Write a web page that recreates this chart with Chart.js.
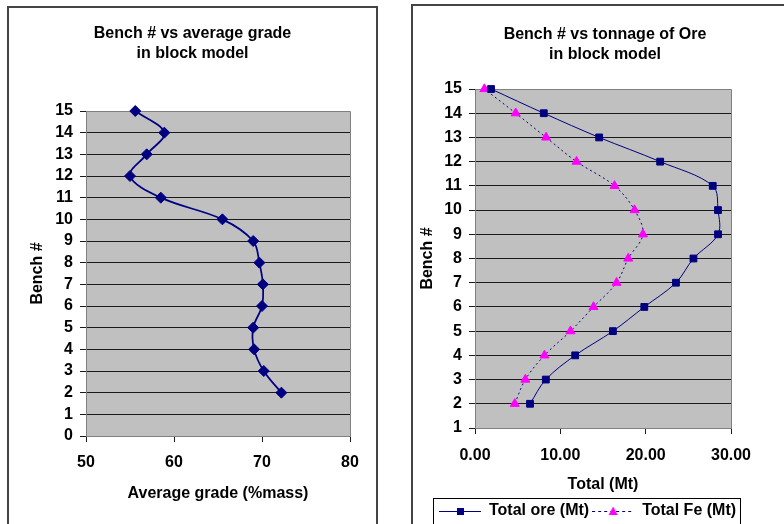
<!DOCTYPE html>
<html>
<head>
<meta charset="utf-8">
<title>Bench charts</title>
<script src="https://cdn.jsdelivr.net/npm/chart.js@4.4.0/dist/chart.umd.min.js"></script>
<style>
  html, body { margin: 0; padding: 0; background: #fff; width: 784px; height: 524px; overflow: hidden; }
  .box { position: absolute; box-sizing: border-box; border: 2px solid #444; background: #fff; }
  #boxGrade { left: 7px; top: 6px; width: 371px; height: 540px; }
  #boxTonnage { left: 411px; top: 4px; width: 400px; height: 540px; }
  canvas { position: absolute; left: 0; top: 0; }
</style>
</head>
<body>
<div class="box" id="boxGrade"><canvas id="gradeChart" width="367" height="516"></canvas></div>
<div class="box" id="boxTonnage"><canvas id="tonnageChart" width="371" height="523"></canvas></div>
<script>
// ===== data =====
const benches = [2, 3, 4, 5, 6, 7, 8, 9, 10, 11, 12, 13, 14, 15];
const avgGrade = [72.2, 70.2, 69.1, 69.0, 70.0, 70.1, 69.7, 69.0, 65.5, 58.5, 55.0, 56.9, 58.9, 55.6];
const totalOre = [6.45, 8.3, 11.74, 16.16, 19.84, 23.55, 25.6, 28.48, 28.48, 27.86, 21.7, 14.55, 8.06, 1.88];
const totalFe = [4.66, 5.9, 8.14, 11.19, 13.89, 16.59, 17.96, 19.68, 18.7, 16.35, 11.9, 8.33, 4.77, 1.1];

const gradeTicks = [50, 60, 70, 80];
const tonnageTicks = [0, 10, 20, 30];
const seriesNames = ['Total ore (Mt)', 'Total Fe (Mt)'];

const NAVY = '#000080';
const MAGENTA = '#FF00FF';
const GRID = '#1a1a1a';
const AXIS = '#808080';

Chart.defaults.font.family = '"Liberation Sans", Arial, sans-serif';
Chart.defaults.font.weight = 'bold';
Chart.defaults.font.size = 16;
Chart.defaults.color = '#000';

// ===== helpers =====
function toPoints(xs) {
    return xs.map((v, i) => ({ x: v, y: benches[i] }));
}

// grey plot area with grey frame (Excel look)
const plotBackground = {
    id: 'plotBackground',
    beforeDraw(chart) {
        const a = chart.chartArea, ctx = chart.ctx;
        ctx.save();
        ctx.fillStyle = '#C0C0C0';
        ctx.fillRect(a.left, a.top, a.right - a.left, a.bottom - a.top);
        ctx.restore();
    },
    beforeDatasetsDraw(chart) {
        const a = chart.chartArea, ctx = chart.ctx;
        ctx.save();
        ctx.strokeStyle = AXIS;
        ctx.lineWidth = 1;
        ctx.beginPath();
        ctx.moveTo(Math.round(a.left), Math.round(a.top) + 0.5);
        ctx.lineTo(Math.round(a.right) + 0.5, Math.round(a.top) + 0.5);
        ctx.lineTo(Math.round(a.right) + 0.5, Math.round(a.bottom));
        ctx.stroke();
        ctx.restore();
    }
};

// frame round the legend
const legendFrame = {
    id: 'legendFrame',
    afterDraw(chart) {
        const hb = chart.legend && chart.legend.legendHitBoxes;
        if (!hb || !hb.length) return;
        const ctx = chart.ctx;
        const last = hb[hb.length - 1];
        const x0 = Math.round(hb[0].left - 6);
        const x1 = Math.round(last.left + last.width + 4);
        const cy = hb[0].top + hb[0].height / 2;
        ctx.save();
        ctx.strokeStyle = '#000';
        ctx.lineWidth = 1;
        ctx.strokeRect(x0 + 0.5, Math.round(cy - 13) + 0.5, x1 - x0, 26);
        ctx.restore();
    }
};

function makeLegendIcon(dashed, marker) {
    const c = document.createElement('canvas');
    c.width = 42;
    c.height = 14;
    const g = c.getContext('2d');
    g.strokeStyle = NAVY;
    g.lineWidth = 1;
    if (dashed) g.setLineDash([3, 3]);
    g.beginPath();
    g.moveTo(0, 7.5);
    g.lineTo(42, 7.5);
    g.stroke();
    g.setLineDash([]);
    if (marker === 'square') {
        g.fillStyle = NAVY;
        g.fillRect(18, 4, 7, 7);
    } else {
        g.fillStyle = MAGENTA;
        g.beginPath();
        g.moveTo(21, 2.5);
        g.lineTo(25.5, 11);
        g.lineTo(16.5, 11);
        g.closePath();
        g.fill();
    }
    return c;
}

function gridColor(min, max) {
    return ctx => (ctx.tick && (ctx.tick.value === min || ctx.tick.value === max)) ? AXIS : GRID;
}

// ===== left chart: average grade =====
new Chart(document.getElementById('gradeChart'), {
    type: 'scatter',
    data: {
        datasets: [{
            data: toPoints(avgGrade),
            showLine: true,
            clip: false,
            tension: 0.35,
            borderColor: NAVY,
            borderWidth: 1.75,
            backgroundColor: NAVY,
            pointStyle: 'rectRot',
            pointRadius: 5.5,
            pointBorderWidth: 1
        }]
    },
    options: {
        responsive: false,
        animation: false,
        layout: { padding: 0 },
        plugins: {
            legend: { display: false },
            tooltip: { enabled: false },
            title: {
                display: true,
                text: ['Bench # vs average grade', 'in block model'],
                font: { size: 16, weight: 'bold', lineHeight: 1.25 },
                padding: { top: 16, bottom: 47 }
            }
        },
        scales: {
            x: {
                type: 'linear',
                min: 50,
                max: 80,
                afterBuildTicks: s => { s.ticks = gradeTicks.map(v => ({ value: v })); },
                afterFit: s => { s.height = 88; s.paddingRight = 26; },
                grid: { drawOnChartArea: false, tickLength: 6, tickColor: GRID },
                border: { color: AXIS },
                ticks: { padding: 11 },
                title: { display: true, text: 'Average grade (%mass)', padding: { bottom: 21 } }
            },
            y: {
                type: 'linear',
                min: 0,
                max: 15,
                afterFit: s => { s.width = 77; },
                grid: { color: gridColor(0, 15), tickLength: 6, tickColor: GRID },
                border: { color: AXIS },
                ticks: { stepSize: 1, padding: 7, autoSkip: false },
                title: { display: true, text: 'Bench #', padding: { top: 19 } }
            }
        }
    },
    plugins: [plotBackground]
});

// ===== right chart: tonnage =====
const legendIcons = [makeLegendIcon(false, 'square'), makeLegendIcon(true, 'triangle')];

new Chart(document.getElementById('tonnageChart'), {
    type: 'scatter',
    data: {
        datasets: [{
            label: seriesNames[0],
            data: toPoints(totalOre),
            showLine: true,
            clip: false,
            tension: 0.35,
            borderColor: NAVY,
            borderWidth: 1,
            backgroundColor: NAVY,
            pointStyle: 'rect',
            pointRadius: 4.8,
            pointBorderWidth: 1
        }, {
            label: seriesNames[1],
            data: toPoints(totalFe),
            showLine: true,
            clip: false,
            tension: 0.35,
            borderColor: NAVY,
            borderWidth: 1,
            borderDash: [2, 3],
            backgroundColor: MAGENTA,
            pointBorderColor: MAGENTA,
            pointStyle: 'triangle',
            pointRadius: 5.2,
            pointBorderWidth: 1
        }]
    },
    options: {
        responsive: false,
        animation: false,
        layout: { padding: { left: 23, right: 10, top: 0, bottom: 0 } },
        plugins: {
            tooltip: { enabled: false },
            title: {
                display: true,
                text: ['Bench # vs tonnage of Ore', 'in block model'],
                font: { size: 16, weight: 'bold', lineHeight: 1.25 },
                padding: { top: 19, bottom: 24 }
            },
            legend: {
                position: 'bottom',
                align: 'start',
                labels: {
                    usePointStyle: true,
                    pointStyleWidth: 42,
                    padding: 3,
                    color: '#000',
                    generateLabels: chart => chart.data.datasets.map((ds, i) => ({
                        text: ds.label,
                        pointStyle: legendIcons[i],
                        fillStyle: 'transparent',
                        strokeStyle: 'transparent',
                        lineWidth: 0,
                        hidden: false,
                        datasetIndex: i,
                        fontColor: '#000'
                    }))
                }
            }
        },
        scales: {
            x: {
                type: 'linear',
                min: 0,
                max: 30,
                afterBuildTicks: s => { s.ticks = tonnageTicks.map(v => ({ value: v })); },
                afterFit: s => { s.height = 72; s.paddingRight = 53; },
                grid: { drawOnChartArea: false, tickLength: 6, tickColor: GRID },
                border: { color: AXIS },
                ticks: { padding: 12, callback: v => Number(v).toFixed(2) },
                title: { display: true, text: 'Total (Mt)', padding: { bottom: 6 } }
            },
            y: {
                type: 'linear',
                min: 1,
                max: 15,
                afterFit: s => { s.width = 39; },
                grid: { color: gridColor(1, 15), tickLength: 6, tickColor: GRID },
                border: { color: AXIS },
                ticks: { stepSize: 1, padding: 7, autoSkip: false },
                title: { display: true, text: 'Bench #', padding: { top: -18 } }
            }
        }
    },
    plugins: [plotBackground, legendFrame]
});
</script>
</body>
</html>
